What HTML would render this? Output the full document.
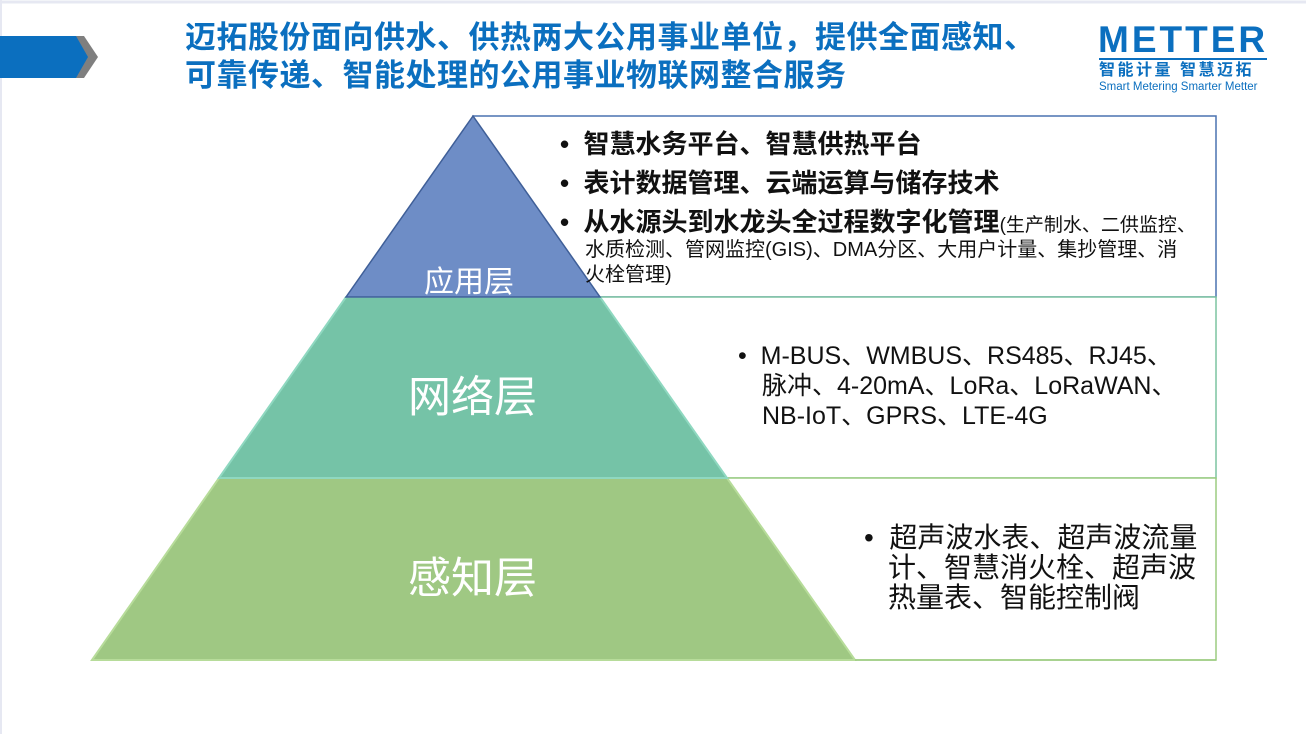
<!DOCTYPE html>
<html><head><meta charset="utf-8"><style>
body{margin:0;width:1306px;height:734px;background:#fff;position:relative;overflow:hidden;font-family:"Liberation Sans","Noto Sans CJK SC",sans-serif}
.t{position:absolute;white-space:nowrap}
</style></head><body>
<svg width="1306" height="734" style="position:absolute;left:0;top:0">
<rect x="0" y="0" width="1306" height="734" fill="#fff"/>
<line x1="0" y1="2" x2="1306" y2="2" stroke="#e6e8f2" stroke-width="3"/>
<line x1="1" y1="0" x2="1" y2="734" stroke="#e6e8f2" stroke-width="2"/>
<polygon points="84,36 98,57 84,78 76,78 76,36" fill="#7f7f7f"/>
<polygon points="0,36 76,36 88,57 76,78 0,78" fill="#0b6fbf"/>
<rect x="473" y="116" width="743" height="181" fill="#fff" stroke="#4a72b0" stroke-width="1.5"/>
<rect x="590" y="297" width="626" height="181" fill="#fff" stroke="#7cc4a0" stroke-width="1.5"/>
<rect x="720" y="478" width="496" height="182" fill="#fff" stroke="#9ccc80" stroke-width="1.5"/>
<polygon points="92,660 219,478 727,478 855,660" fill="#9fc883" stroke="#b7dc9a" stroke-width="2"/>
<polygon points="219,478 346,297 600,297 727,478" fill="#75c3a7" stroke="#8fd8c0" stroke-width="2"/>
<polygon points="346,297 473,116 600,297" fill="#6e8dc6" stroke="#3f5f98" stroke-width="1.5"/>
<line x1="855" y1="660" x2="1216" y2="660" stroke="#9ccc80" stroke-width="1.5"/>
</svg>
<div class="t" style="left:185px;top:19px;font-size:31px;letter-spacing:0.5px;font-weight:bold;color:#0b6fbf;line-height:38px">迈拓股份面向供水、供热两大公用事业单位，提供全面感知、<br>可靠传递、智能处理的公用事业物联网整合服务</div>
<div class="t" style="left:1098px;top:20px;font-size:37px;font-weight:bold;color:#0b6fbf;letter-spacing:3px;line-height:40px">METTER</div>
<div style="position:absolute;left:1099px;top:58px;width:168px;height:2px;background:#0b6fbf"></div>
<div class="t" style="left:1099px;top:61px;font-size:16px;line-height:20px;font-weight:bold;color:#0b6fbf;letter-spacing:2.5px">智能计量 智慧迈拓</div>
<div class="t" style="left:1099px;top:81px;font-size:11.5px;line-height:13px;color:#0b6fbf">Smart Metering Smarter Metter</div>
<div class="t" style="left:424px;top:257px;font-size:30px;color:#fff">应用层</div>
<div class="t" style="left:408px;top:363px;font-size:43px;color:#fff">网络层</div>
<div class="t" style="left:408px;top:544px;font-size:43px;color:#fff">感知层</div>
<div class="t" style="left:560px;top:125px;font-size:26px;font-weight:bold;color:#111;line-height:39px">•&nbsp; 智慧水务平台、智慧供热平台<br>•&nbsp; 表计数据管理、云端运算与储存技术<br>•&nbsp; 从水源头到水龙头全过程数字化管理<span style="font-weight:normal;font-size:19px">(生产制水、二供监控、</span></div>
<div class="t" style="left:585px;top:238px;font-size:20px;color:#111;line-height:25px">水质检测、管网监控(GIS)、DMA分区、大用户计量、集抄管理、消<br>火栓管理)</div>
<div class="t" style="left:738px;top:341px;font-size:25px;color:#111;line-height:30px">•&nbsp; M-BUS、WMBUS、RS485、RJ45、<br><span style="padding-left:24px">脉冲、4-20mA、LoRa、LoRaWAN、</span><br><span style="padding-left:24px">NB-IoT、GPRS、LTE-4G</span></div>
<div class="t" style="left:864px;top:523px;font-size:28px;color:#111;line-height:30px">•&nbsp; 超声波水表、超声波流量<br><span style="padding-left:24px">计、智慧消火栓、超声波</span><br><span style="padding-left:24px">热量表、智能控制阀</span></div>
</body></html>
